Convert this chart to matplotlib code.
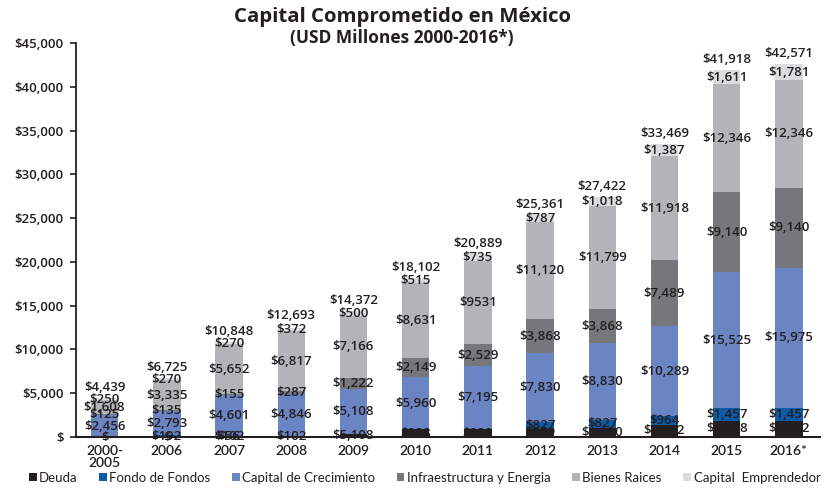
import numpy as np
import matplotlib.pyplot as plt

plt.rcParams['font.family'] = ['Open Sans', 'DejaVu Sans']

# Capital comprometido por sector, USD millones
years = ['2000-\n2005', '2006', '2007', '2008', '2009', '2010', '2011',
         '2012', '2013', '2014', '2015', '2016*']
nan = np.nan
deuda = [0, 0, 56, nan, 376, 888, 890, 929, 1080, 1422, 1838, 1872]
fondo_fondos = [nan, 192, 102, 102, nan, nan, nan, 827, 827, 964, 1457, 1457]
capital_crec = [2456, 2793, 4601, 4846, 5108, 5960, 7195, 7830, 8830, 10289, 15525, 15975]
infraestructura = [125, 135, 155, 287, 1222, 2149, 2529, 3868, 3868, 7489, 9140, 9140]
bienes_raices = [1608, 3335, 5652, 6817, 7166, 8631, 9531, 11120, 11799, 11918, 12346, 12346]
emprendedor = [250, 270, 270, 372, 500, 515, 735, 787, 1018, 1387, 1611, 1781]
totales = [4439, 6725, 10848, 12693, 14372, 18102, 20889, 25361, 27422, 33469, 41918, 42571]

series_names = ['Deuda', 'Fondo de Fondos', 'Capital de Crecimiento',
                'Infraestructura y Energia', 'Bienes Raices', 'Capital  Emprendedor']
colors = ['#231f20', '#0d5aa7', '#6b84c3', '#76777a', '#b3b4b7', '#dcdcde']


def fmt(v):
    if np.isnan(v):
        return None
    return '$' if v == 0 else '${:,.0f}'.format(v)


series = [deuda, fondo_fondos, capital_crec, infraestructura, bienes_raices, emprendedor]
labels = [[fmt(v) for v in s] for s in series]
labels[0][4] = '$5,108'
labels[4][6] = '$9531'

fig = plt.figure(figsize=(8.29, 4.9), dpi=100)
ax = fig.add_axes([76 / 829, 1 - 437 / 490, (820 - 76) / 829, (437 - 43) / 490])

x = np.arange(len(years))
bottom = np.zeros(len(years))
txt_color = '#231f20'
narrow = ['Lato', 'DejaVu Sans']
for vals, lbls, name, c in zip(series, labels, series_names, colors):
    v = np.nan_to_num(np.array(vals, dtype=float))
    ax.bar(x, v, 0.44, bottom=bottom, color=c, label=name, zorder=2)
    for i in range(len(x)):
        if lbls[i] is not None:
            ax.text(x[i], bottom[i] + v[i] / 2, lbls[i], ha='center', va='center',
                    fontsize=9.5, fontweight='semibold', color=txt_color, zorder=4)
    bottom += v

for i, t in enumerate(totales):
    ax.annotate(fmt(t), (x[i], t), xytext=(0, 3), textcoords='offset points',
                ha='center', va='bottom', fontsize=9.5, fontweight='semibold',
                color=txt_color, zorder=4)

ax.set_xlim(-0.46, 11.5)
ax.set_ylim(0, 45000)
ax.set_yticks(np.arange(0, 45001, 5000))
ax.set_yticklabels(['$'] + ['${:,}'.format(v) for v in range(5000, 45001, 5000)],
                   fontsize=9.5, fontweight='semibold', color=txt_color)
ax.set_xticks(x)
ax.set_xticklabels(years, fontsize=10, color=txt_color, family=narrow,
                   fontweight='semibold', linespacing=0.95)
ax.tick_params(axis='x', length=0, pad=6)
ax.tick_params(axis='y', length=4, width=1.2, direction='out', color=txt_color, pad=5)
for s in ['top', 'right']:
    ax.spines[s].set_visible(False)
ax.spines['left'].set_linewidth(1.3)
ax.spines['left'].set_color(txt_color)
ax.spines['bottom'].set_linewidth(1.5)
ax.spines['bottom'].set_color(txt_color)
ax.spines['bottom'].set_zorder(3)

fig.text(0.485, 0.965, 'Capital Comprometido en México', ha='center', va='center',
         fontsize=14.7, fontweight='bold', color=txt_color)
fig.text(0.485, 0.922, '(USD Millones 2000-2016*)', ha='center', va='center',
         fontsize=12.5, fontweight='bold', color=txt_color)

leg = fig.legend(loc='center', bbox_to_anchor=(0.512, 0.025), ncol=6, frameon=False,
                 handlelength=0.6, handleheight=0.6, handletextpad=0.2,
                 columnspacing=1.6, prop={'family': narrow, 'size': 9.5})
for t in leg.get_texts():
    t.set_color(txt_color)

fig.savefig('out.png', dpi=100)
